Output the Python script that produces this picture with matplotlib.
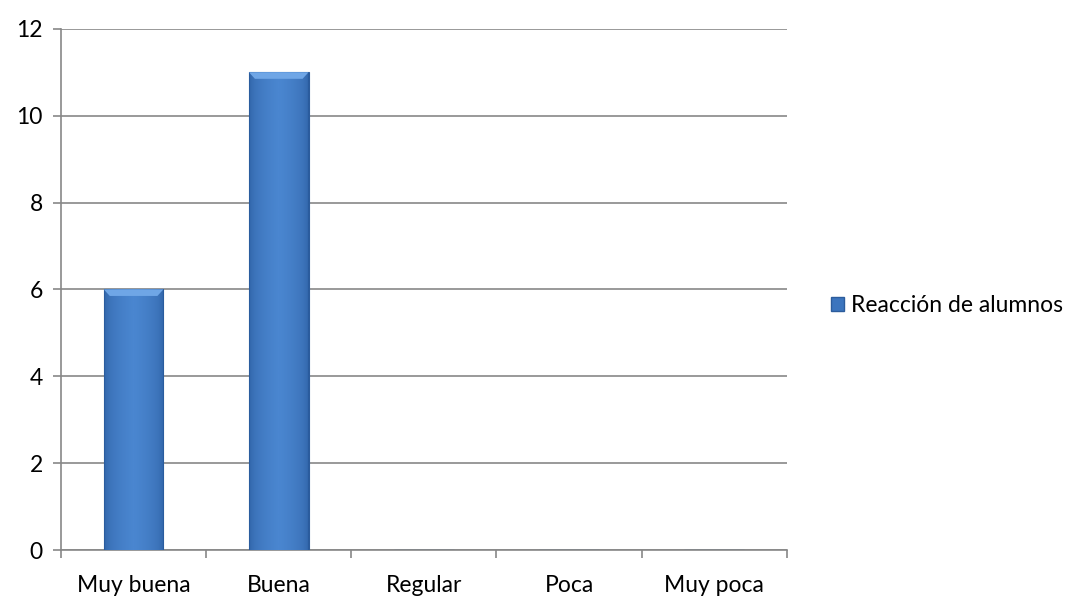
import numpy as np
import matplotlib
matplotlib.use('Agg')
import matplotlib.pyplot as plt
from matplotlib.patches import Patch, Polygon

plt.rcParams['font.family'] = ['Lato', 'DejaVu Sans']

categories = ['Muy buena', 'Buena', 'Regular', 'Poca', 'Muy poca']
values = [6, 11, 0, 0, 0]
series_name = 'Reacción de alumnos'
yticks = [0, 2, 4, 6, 8, 10, 12]

GRAY = '#878787'
BAR = '#3C75BE'
FS = 16.5

fig = plt.figure(figsize=(10.8, 5.99), dpi=100)
ax = fig.add_axes([0.0565, 0.0818, 0.672, 0.870])

x = np.arange(len(categories))
bars = ax.bar(x, values, width=0.41, color=BAR, edgecolor='#2C5C9C', linewidth=0.8, zorder=3)

# horizontal shading on each bar (darker edges, lighter middle)
grad = np.concatenate([np.linspace(0.0, 1.0, 30), np.linspace(1.0, 0.0, 30)])
grad = np.power(grad, 0.35).reshape(1, -1)
cmap = matplotlib.colors.LinearSegmentedColormap.from_list('b', ['#2A5C9E', '#4A86D0'])
for b in bars:
    h = b.get_height()
    if h <= 0:
        continue
    x0 = b.get_x()
    w = b.get_width()
    ax.imshow(grad, extent=(x0, x0 + w, 0, h), aspect='auto', cmap=cmap, zorder=4, interpolation='bilinear')
    # lighter top bevel
    dx = w * 0.1
    ax.add_patch(Polygon([(x0, h), (x0 + w, h), (x0 + w - dx, h - 0.15), (x0 + dx, h - 0.15)],
                         closed=True, facecolor='#6FA6E6', edgecolor='none', zorder=5))

ax.set_xlim(-0.5, len(categories) - 0.5)
ax.set_ylim(0, 12)
ax.set_yticks(yticks)
ax.set_xticks(x)
ax.set_xticklabels(categories, fontsize=FS)
ax.tick_params(axis='x', length=0, pad=18)
ax.set_xticks(np.arange(-0.5, len(categories)), minor=True)
ax.tick_params(axis='x', which='minor', length=6, direction='out', color=GRAY, width=1.2)
ax.tick_params(axis='y', length=6, direction='out', color=GRAY, width=1.2, labelsize=FS, pad=7)
ax.yaxis.grid(True, color=GRAY, linewidth=1.2, zorder=0)
ax.set_axisbelow(True)
for s in ['top', 'right']:
    ax.spines[s].set_visible(False)
for s in ['left', 'bottom']:
    ax.spines[s].set_color(GRAY)
    ax.spines[s].set_linewidth(1.2)

handle = Patch(facecolor=BAR, edgecolor='#2C5C9C', label=series_name)
fig.legend(handles=[handle], loc='center left', bbox_to_anchor=(0.750, 0.49), frameon=False,
           fontsize=FS, handlelength=0.6, handleheight=0.6, handletextpad=0.3)

fig.savefig('out.png', dpi=100)
